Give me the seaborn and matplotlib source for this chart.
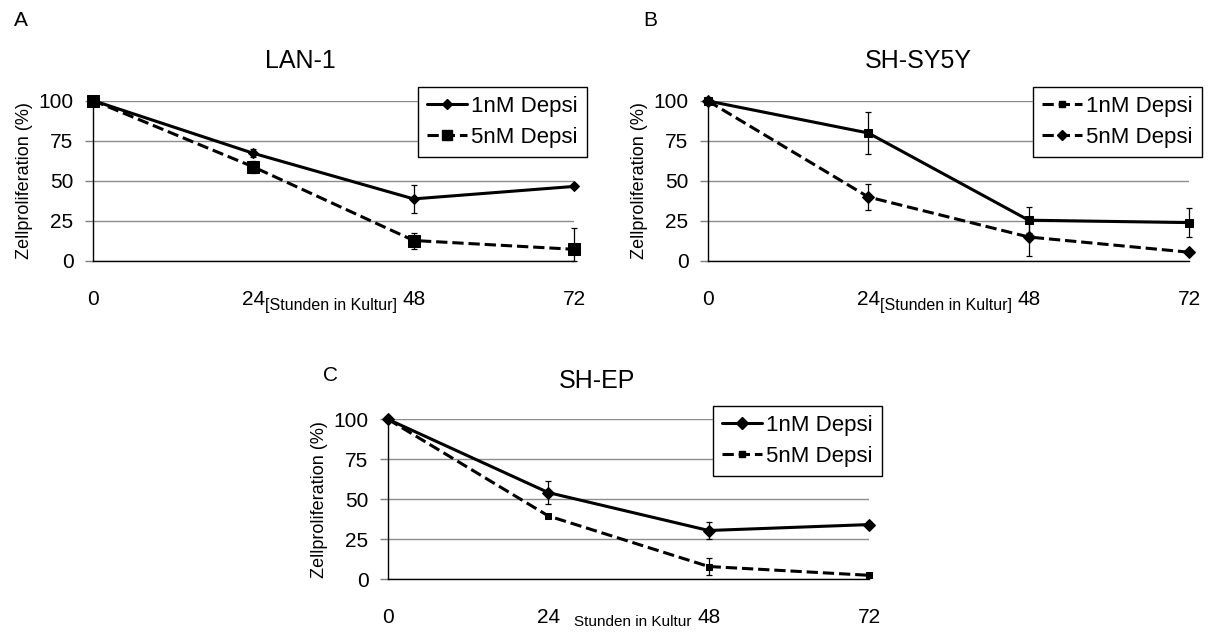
import numpy as np
import pandas as pd
import matplotlib
matplotlib.use("Agg")
import matplotlib.pyplot as plt
import seaborn as sns
from matplotlib.lines import Line2D

# data
hours = [0, 24, 48, 72]
series_names = ["1nM Depsi", "5nM Depsi"]

lan1_1nm = [100, 67, 38.5, 46.3]
lan1_1nm_err = [0, 2.5, 8.5, 1.0]
lan1_5nm = [100, 58.5, 12.5, 7.0]
lan1_5nm_err = [0, 3.5, 5.0, 13.5]

shsy5y_1nm = [100, 80, 25.5, 24.0]
shsy5y_1nm_err = [0, 13, 8, 9.2]
shsy5y_5nm = [100, 40, 15, 5.5]
shsy5y_5nm_err = [0, 8, 12, 1.0]

shep_1nm = [100, 54.2, 30.5, 34.2]
shep_1nm_err = [0, 7, 5.5, 1.5]
shep_5nm = [100, 39.6, 8.0, 2.5]
shep_5nm_err = [0, 1.5, 5.5, 1.0]

panels = [
    {
        "letter": "A", "title": "LAN-1", "note": "[Stunden in Kultur]",
        "rect": [93 / 1210, 1 - 260.5 / 633, 481 / 1210, 160 / 633],
        "values": [(lan1_1nm, lan1_1nm_err), (lan1_5nm, lan1_5nm_err)],
        "dashes": ["-", "--"], "markers": ["D", "s"], "ms": [5, 8],
        "legend": [("-", "D", 5), ("--", "s", 7)],
        "legend_anchor": (587 / 1210, 1 - 87 / 633),
        "letter_xy": (14, 21), "title_xy": (300, 61),
        "note_xy": (331, 305), "note_size": 11.5,
    },
    {
        "letter": "B", "title": "SH-SY5Y", "note": "[Stunden in Kultur]",
        "rect": [708 / 1210, 1 - 261 / 633, 481 / 1210, 160 / 633],
        "values": [(shsy5y_1nm, shsy5y_1nm_err), (shsy5y_5nm, shsy5y_5nm_err)],
        "dashes": ["-", "--"], "markers": ["s", "D"], "ms": [6, 6],
        "legend": [("--", "s", 5), ("--", "D", 5)],
        "legend_anchor": (1202 / 1210, 1 - 87 / 633),
        "letter_xy": (643, 21), "title_xy": (918, 61),
        "note_xy": (946, 305), "note_size": 11.5,
    },
    {
        "letter": "C", "title": "SH-EP", "note": "Stunden in Kultur",
        "rect": [388 / 1210, 1 - 579.3 / 633, 481 / 1210, 160 / 633],
        "values": [(shep_1nm, shep_1nm_err), (shep_5nm, shep_5nm_err)],
        "dashes": ["-", "--"], "markers": ["D", "s"], "ms": [6, 5],
        "legend": [("-", "D", 6), ("--", "s", 5)],
        "legend_anchor": (882 / 1210, 1 - 406 / 633),
        "letter_xy": (323, 376), "title_xy": (597, 381),
        "note_xy": (633, 622), "note_size": 11,
    },
]

sns.set_theme(style="white")
plt.rcParams["font.family"] = ["Liberation Sans", "DejaVu Sans"]
plt.rcParams["text.color"] = "black"
plt.rcParams["axes.labelcolor"] = "black"
plt.rcParams["xtick.color"] = "black"
plt.rcParams["ytick.color"] = "black"

fig = plt.figure(figsize=(12.1, 6.33), dpi=100)
W, H = 1210, 633

for panel in panels:
    ax = fig.add_axes(panel["rect"])

    for k, name in enumerate(series_names):
        vals, errs = panel["values"][k]
        df = pd.DataFrame({"hours": hours, "value": vals})
        sns.lineplot(
            data=df, x="hours", y="value", ax=ax,
            color="black", linewidth=2.2, linestyle=panel["dashes"][k],
            marker=panel["markers"][k], markersize=panel["ms"][k],
            markeredgecolor="black", markerfacecolor="black",
            clip_on=False, zorder=3, legend=False
        )
        lower = [min(e, v) for e, v in zip(errs, vals)]
        eb = ax.errorbar(
            hours, vals, yerr=[lower, errs], fmt="none", ecolor="black",
            elinewidth=0.9, capsize=2.5, capthick=0.9, zorder=2
        )
        for art in list(eb.lines[1]) + list(eb.lines[2]):
            art.set_clip_on(False)

    ax.set_xlim(0, 72)
    ax.set_ylim(0, 100)
    ax.set_xticks(hours)
    ax.set_yticks([0, 25, 50, 75, 100])
    ax.set_xticks([0], minor=True)
    ax.tick_params(axis="x", which="major", length=0, labelsize=15, pad=21)
    ax.tick_params(axis="x", which="minor", length=6, width=1, color="black",
                   bottom=True)
    ax.tick_params(axis="y", length=6, width=1, color="#808080",
                   labelsize=15, pad=8, left=True)
    ax.yaxis.grid(True, color="#8c8c8c", linewidth=1)
    ax.xaxis.grid(False)
    for side in ["top", "right"]:
        ax.spines[side].set_visible(False)
    ax.spines["left"].set_color("black")
    ax.spines["left"].set_linewidth(1)
    ax.spines["bottom"].set_color("black")
    ax.spines["bottom"].set_linewidth(1)
    ax.set_xlabel("")
    ax.set_ylabel("Zellproliferation (%)", fontsize=13, labelpad=0)
    ax.yaxis.set_label_coords(-0.124, 0.5)

    handles = [
        Line2D([0], [0], color="black", linewidth=2.2, linestyle=ls,
               marker=m, markersize=s, markerfacecolor="black")
        for ls, m, s in panel["legend"]
    ]
    leg = fig.legend(
        handles, series_names, loc="upper right",
        bbox_to_anchor=panel["legend_anchor"], bbox_transform=fig.transFigure,
        fontsize=16, frameon=True, fancybox=False, framealpha=1,
        edgecolor="black", borderaxespad=0, handlelength=1.8,
        handletextpad=0.2, borderpad=0.4, labelspacing=0.45
    )
    leg.get_frame().set_linewidth(1)

    lx, ly = panel["letter_xy"]
    fig.text(lx / W, 1 - ly / H, panel["letter"], fontsize=15,
             ha="left", va="center")
    tx, ty = panel["title_xy"]
    fig.text(tx / W, 1 - ty / H, panel["title"], fontsize=18,
             ha="center", va="center")
    nx, ny = panel["note_xy"]
    fig.text(nx / W, 1 - ny / H, panel["note"], fontsize=panel["note_size"],
             ha="center", va="center")

fig.savefig("out.png", dpi=100, facecolor="white")
